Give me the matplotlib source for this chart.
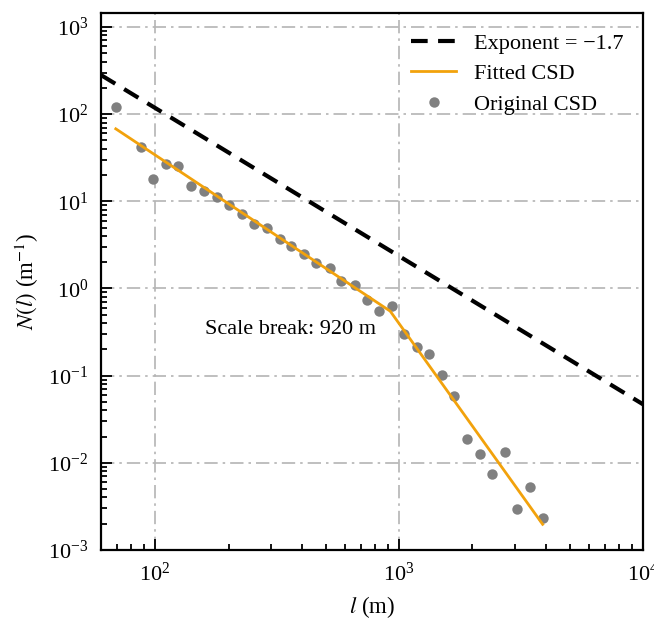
import numpy as np
import matplotlib
matplotlib.use('Agg')
import matplotlib.pyplot as plt

plt.rcParams['font.family'] = ['Liberation Serif', 'DejaVu Serif']
plt.rcParams['mathtext.fontset'] = 'stix'

# ----------------------------
# Data
# ----------------------------
l_orig = [69.1, 87.4, 98.5, 110.9, 124.6, 140.9, 158.6, 178.8, 200.8, 226.2,
          254.1, 286.3, 323.6, 361.4, 406.8, 458.5, 519.6, 580.2, 657.6, 739.2,
          829.9, 937.9, 1050, 1184, 1332, 1498, 1687, 1906, 2142, 2412,
          2719, 3044, 3441, 3878]
n_orig = [121, 42.2, 18.1, 27.1, 25.5, 14.9, 13.1, 11.3, 9.12, 7.11,
          5.46, 4.88, 3.67, 3.09, 2.50, 1.97, 1.70, 1.23, 1.09, 0.734,
          0.555, 0.634, 0.299, 0.214, 0.177, 0.101, 0.0582, 0.0190, 0.0125, 0.00741,
          0.0132, 0.00294, 0.00526, 0.00230]

# fitted piecewise power law (break at 920 m)
l_fit = [69, 920, 3878]
n_fit = [67.8, 0.549, 0.00197]

# reference line with exponent -1.7
exponent = -1.7
n_ref_at_1000 = 2.35
l_ref = [60, 1e4]
n_ref = [n_ref_at_1000 * (x / 1000.0) ** exponent for x in l_ref]

# ----------------------------
# Plot
# ----------------------------
fig = plt.figure(figsize=(6.54, 6.19), dpi=100)
ax = fig.add_axes([0.1544, 0.1115, 0.8288, 0.8675])

ax.plot(l_ref, n_ref, color='black', ls=(0, (4, 2.5)), lw=3.0,
        label='Exponent = \u22121.7', zorder=3)
ax.plot(l_fit, n_fit, color='#F2A20C', lw=2.0, label='Fitted CSD', zorder=4)
ax.plot(l_orig, n_orig, 'o', color='#808080', ms=7.5, mec='none',
        label='Original CSD', zorder=2)

ax.set_xscale('log')
ax.set_yscale('log')
ax.set_xlim(60, 1e4)
ax.set_ylim(1e-3, 10 ** 3.16)

ax.grid(True, which='major', ls='-.', color='#b4b4b4', lw=1.2, dashes=(8, 3, 1.5, 3))
ax.set_axisbelow(True)

ax.tick_params(which='both', direction='in', top=False, right=False,
               labelsize=16, width=1.3)
ax.tick_params(which='major', length=8, pad=9)
ax.tick_params(which='minor', length=4.5)
for sp in ax.spines.values():
    sp.set_linewidth(1.6)

ax.set_xlabel('$l$ (m)', fontsize=16.5, labelpad=6)
ax.set_ylabel('$N(l)$ (m$^{-1}$)', fontsize=16.5, labelpad=5)

ax.text(160, 0.34, 'Scale break: 920 m', fontsize=16, ha='left', va='center')

ax.legend(loc='upper right', frameon=False, fontsize=16, handlelength=2.0,
          borderaxespad=0.5, labelspacing=0.45, handletextpad=0.8)

fig.savefig('out.png', dpi=100)
